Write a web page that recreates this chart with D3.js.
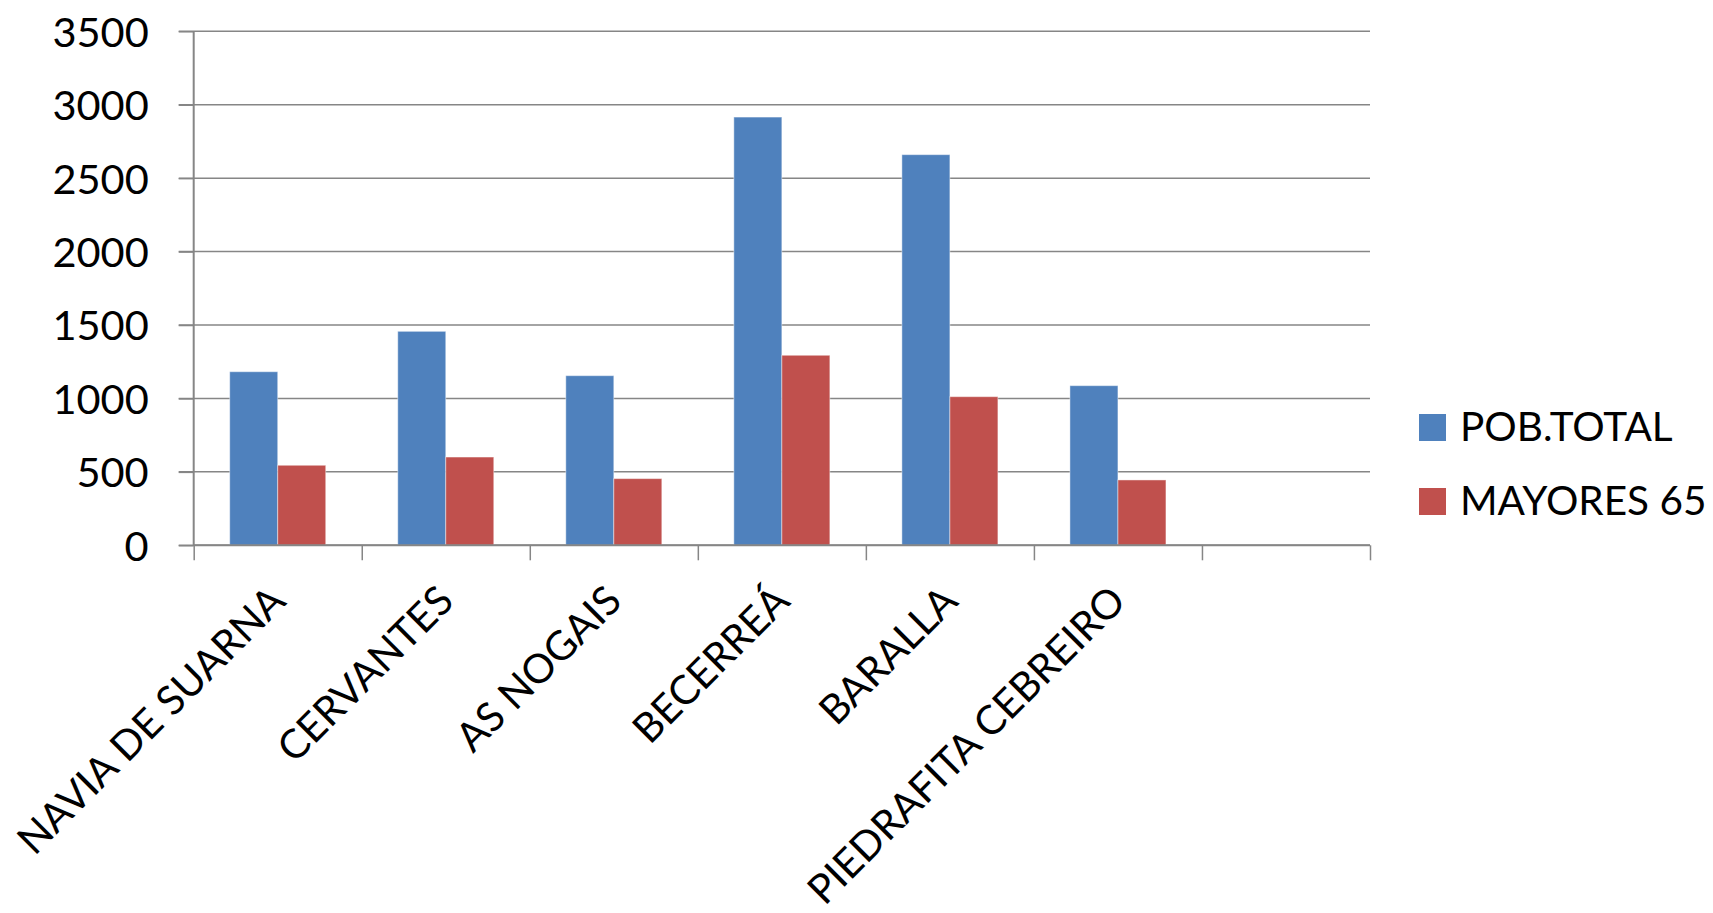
<!DOCTYPE html>
<html>
<head>
<meta charset="utf-8">
<script src="https://cdn.jsdelivr.net/npm/d3@7"></script>
<style>
  body { margin: 0; background: #fff; }
  svg text { font-family: Lato, "Open Sans", sans-serif; fill: #000; }
</style>
</head>
<body>
<div id="chart"></div>
<script>
// data
var categories = ["NAVIA DE SUARNA", "CERVANTES", "AS NOGAIS", "BECERREÁ", "BARALLA", "PIEDRAFITA CEBREIRO", ""];
var seriesNames = ["POB.TOTAL", "MAYORES 65"];
var pobTotal = [1182, 1457, 1155, 2916, 2660, 1087, null];
var mayores65 = [545, 601, 454, 1294, 1012, 445, null];
var yTicks = [0, 500, 1000, 1500, 2000, 2500, 3000, 3500];
var colors = ["#4F81BD", "#C0504D"];

!(function (d3) {
var W = 1713, H = 913;
var m = {left: 193.7, right: 1370, top: 31.3, bottom: 545.3};
var fontSize = 40.5;

var svg = d3.select("#chart").append("svg")
    .attr("width", W)
    .attr("height", H);

svg.append("rect").attr("width", W).attr("height", H).attr("fill", "#fff");

var x = d3.scaleBand().domain(d3.range(categories.length)).range([m.left, m.right]).padding(0);
var x1 = d3.scaleBand().domain(d3.range(seriesNames.length)).range([0, x.bandwidth()])
    .paddingInner(0).paddingOuter(0.75);
var y = d3.scaleLinear().domain([0, 3500]).range([m.bottom, m.top]);

// gridlines
svg.append("g").selectAll("line")
    .data(yTicks)
  .enter().append("line")
    .attr("x1", m.left - 15)
    .attr("x2", m.right)
    .attr("y1", function(d) { return y(d); })
    .attr("y2", function(d) { return y(d); })
    .attr("stroke", "#868686")
    .attr("stroke-width", 1.5);

// bars
var rows = categories.map(function(c, i) {
  return {i: i, vals: [pobTotal[i], mayores65[i]]};
}).filter(function(r) { return r.vals[0] != null; });

var grp = svg.append("g").selectAll("g")
    .data(rows)
  .enter().append("g")
    .attr("transform", function(d) { return "translate(" + x(d.i) + ",0)"; });

grp.selectAll("rect")
    .data(function(d) { return d.vals.map(function(v, k) { return {k: k, v: v}; }); })
  .enter().append("rect")
    .attr("x", function(d) { return x1(d.k); })
    .attr("width", x1.bandwidth())
    .attr("y", function(d) { return y(d.v); })
    .attr("height", function(d) { return y(0) - y(d.v); })
    .attr("fill", function(d) { return colors[d.k]; })
    .attr("stroke", "rgba(255,255,255,0.45)")
    .attr("stroke-width", 1);

// y axis
var yAxis = svg.append("g")
    .attr("transform", "translate(" + m.left + ",0)")
    .call(d3.axisLeft(y).tickValues(yTicks).tickSize(15).tickPadding(30).tickFormat(d3.format("d")));
yAxis.selectAll("line").attr("stroke", "#868686").attr("stroke-width", 1.5);
yAxis.select(".domain").attr("stroke", "#868686").attr("stroke-width", 2)
    .attr("d", "M0," + m.top + "V" + m.bottom);
yAxis.selectAll("text")
    .style("font-size", "41.5px")
    .attr("dy", "0.36em");

// x axis: ticks between categories
var xEdge = d3.scaleLinear().domain([0, categories.length]).range([m.left, m.right]);
var xAxis = svg.append("g")
    .attr("transform", "translate(0," + m.bottom + ")")
    .call(d3.axisBottom(xEdge).tickValues(d3.range(categories.length + 1)).tickSize(15).tickFormat(""));
xAxis.selectAll("line").attr("stroke", "#868686").attr("stroke-width", 1.5);
xAxis.select(".domain").attr("stroke", "#868686").attr("stroke-width", 2)
    .attr("d", "M" + m.left + ",0H" + m.right);

// category labels, rotated
svg.append("g").selectAll("text")
    .data(categories)
  .enter().append("text")
    .attr("transform", function(d, i) {
      return "translate(" + (x(i) + x.bandwidth() / 2 + 10) + "," + (m.bottom + 58) + ")rotate(-45)";
    })
    .attr("text-anchor", "end")
    .style("font-size", fontSize + "px")
    .text(function(d) { return d; });

// legend
var legend = svg.append("g").selectAll("g")
    .data(seriesNames)
  .enter().append("g")
    .attr("transform", function(d, i) { return "translate(1419," + (414 + i * 74) + ")"; });
legend.append("rect")
    .attr("width", 27)
    .attr("height", 27)
    .attr("fill", function(d, i) { return colors[i]; });
legend.append("text")
    .attr("x", 41)
    .attr("y", 27)
    .style("font-size", fontSize + "px")
    .text(function(d) { return d; });
})(d3);
</script>
</body>
</html>
